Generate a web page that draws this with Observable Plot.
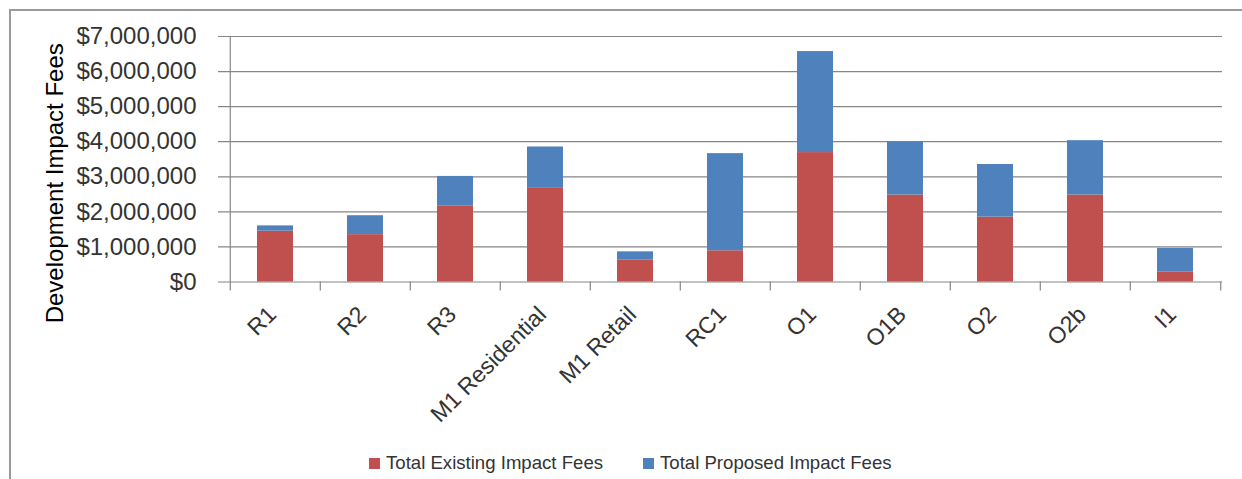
<!DOCTYPE html>
<html>
<head>
<meta charset="utf-8">
<script src="https://cdn.jsdelivr.net/npm/d3@7"></script>
<script src="https://cdn.jsdelivr.net/npm/@observablehq/plot@0.6"></script>
<style>
  html, body { margin: 0; padding: 0; background: #fff; overflow: hidden; }
  body { width: 1242px; height: 479px; position: relative; font-family: "Liberation Sans", Arial, sans-serif; }
  #frame { position: absolute; left: 9px; top: 9px; width: 1300px; height: 600px; border: 2px solid #9a9a9a; box-sizing: border-box; }
  #chart { position: absolute; left: 0; top: 0; }
  #legend { position: absolute; left: 369px; top: 452px; display: flex; align-items: center; font-size: 18.6px; color: #333; white-space: nowrap; }
  .item { display: flex; align-items: center; margin-right: 40px; }
  .sw { width: 11px; height: 11px; margin-right: 6px; }
</style>
</head>
<body>
<div id="frame"></div>
<div id="chart"></div>
<div id="legend"></div>
<script>
// Zoning districts along the x axis
const zones = ["R1", "R2", "R3", "M1 Residential", "M1 Retail", "RC1", "O1", "O1B", "O2", "O2b", "I1"];
// Stacked fee components, in dollars
const existingFees = [1450000, 1350000, 2160000, 2670000, 630000, 890000, 3690000, 2480000, 1850000, 2480000, 290000];
const proposedFees = [150000, 540000, 850000, 1180000, 230000, 2770000, 2880000, 1510000, 1500000, 1550000, 670000];
const seriesNames = ["Total Existing Impact Fees", "Total Proposed Impact Fees"];
const seriesColors = ["#C0504D", "#4F81BD"];
const yTicks = [0, 1000000, 2000000, 3000000, 4000000, 5000000, 6000000, 7000000];
const yTitle = "Development Impact Fees";

// Long-format rows for the stack: existing at the bottom, proposed on top
const rows = [
  ...zones.map((zone, i) => ({zone, series: seriesNames[0], fee: existingFees[i]})),
  ...zones.map((zone, i) => ({zone, series: seriesNames[1], fee: proposedFees[i]}))
];

const W = 1242, H = 440;
const mL = 227, mR = 20, mT = 36, mB = 158.5;
const step = (W - mL - mR) / zones.length;
const gridColor = "#868686";
const font = "Liberation Sans, Arial, sans-serif";

const chart = Plot.plot({
  width: W,
  height: H,
  marginLeft: mL,
  marginRight: mR,
  marginTop: mT,
  marginBottom: mB,
  style: {fontFamily: font, background: "transparent", overflow: "visible"},
  x: {domain: zones, paddingInner: 0.6, paddingOuter: 0.3, axis: null},
  y: {domain: [0, 7000000], axis: null},
  color: {domain: seriesNames, range: seriesColors},
  marks: [
    // horizontal gridlines, extended left to form the tick marks
    Plot.ruleY(yTicks, {stroke: gridColor, strokeWidth: 1.2, insetLeft: -9}),
    Plot.barY(rows, {x: "zone", y: "fee", fill: "series"}),
    // vertical value axis line
    Plot.ruleX([zones[0]], {dx: -step / 2, y1: 7000000, y2: 0, insetBottom: -9, stroke: gridColor, strokeWidth: 1.2}),
    // category boundary ticks below the baseline
    Plot.ruleX(zones.slice(1), {dx: -step / 2, y1: 0, y2: 0, insetBottom: -9, stroke: gridColor, strokeWidth: 1.2}),
    Plot.ruleX([zones[zones.length - 1]], {dx: step / 2, y1: 0, y2: 0, insetBottom: -9, stroke: gridColor, strokeWidth: 1.2}),
    Plot.axisY(yTicks, {tickSize: 0, tickPadding: 31, tickFormat: d3.format("$,"), fontSize: 24, fill: "#333", label: null}),
    // rotated value-axis title
    Plot.text([yTitle], {frameAnchor: "left", rotate: -90, textAnchor: "middle", lineAnchor: "top", dx: -182, dy: 24, fontSize: 24, fill: "#000"}),
    // slanted category labels
    Plot.text(zones, {x: d => d, frameAnchor: "bottom", rotate: -45, textAnchor: "end", lineAnchor: "bottom", dx: 2, dy: 34, fontSize: 23, fill: "#333"})
  ]
});
document.getElementById("chart").append(chart);

// legend beneath the chart
const legend = d3.select("#legend");
seriesNames.forEach((name, i) => {
  const item = legend.append("div").attr("class", "item");
  item.append("div").attr("class", "sw").style("background", seriesColors[i]);
  item.append("span").text(name);
});
</script>
</body>
</html>
